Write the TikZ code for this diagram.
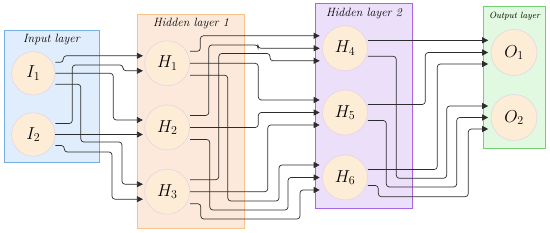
\documentclass[tikz,border=0pt]{standalone}
\usepackage{fontspec}
\usetikzlibrary{arrows.meta}
\definecolor{inputfill}{RGB}{224,237,252}
\definecolor{inputdraw}{RGB}{120,175,225}
\definecolor{hafill}{RGB}{252,233,219}
\definecolor{hadraw}{RGB}{247,195,140}
\definecolor{hbfill}{RGB}{236,223,250}
\definecolor{hbdraw}{RGB}{168,100,228}
\definecolor{outfill}{RGB}{224,249,224}
\definecolor{outdraw}{RGB}{115,208,115}
\definecolor{nodefill}{RGB}{253,237,214}
\definecolor{nodedraw}{RGB}{230,212,228}
\definecolor{edgecol}{RGB}{45,45,45}
\tikzset{
  layerbox/.style={line width=0.9pt},
  neuron/.style={circle, fill=nodefill, draw=nodedraw, line width=0.6pt, inner sep=0pt, minimum size=45pt, font=\fontsize{17}{20}\selectfont},
  ineuron/.style={neuron, minimum size=43.4pt},
  title/.style={font=\fontsize{12}{14}\selectfont\itshape, text=black},
  edge/.style={draw=edgecol, line width=0.7pt, rounded corners=3pt, -{Triangle[length=6pt,width=6pt]}},
}
\begin{document}
\begin{tikzpicture}[x=1pt, y=-1pt]
\useasboundingbox (0,0) rectangle (550,233);
% layer boxes
\filldraw[layerbox, fill=inputfill, draw=inputdraw] (4,30) rectangle (99,162.7);
\filldraw[layerbox, fill=hafill, draw=hadraw] (137.3,14) rectangle (244.3,228.3);
\filldraw[layerbox, fill=hbfill, draw=hbdraw] (315,3.3) rectangle (412.3,208.3);
\filldraw[layerbox, fill=outfill, draw=outdraw] (483.3,6.7) rectangle (545.7,148.3);
\node[title] (tin) at (51.5,40) {Input layer};
\node[title] (th1) at (191,24) {Hidden layer 1};
\node[title] (th2) at (364,14) {Hidden layer 2};
\node[title, font=\fontsize{9}{11}\selectfont\itshape] (tout) at (514.5,16) {Output layer};
% neurons
\node[ineuron] (I1) at (33.3,73.3) {$I_1$};
\node[ineuron] (I2) at (33.3,134.5) {$I_2$};
\node[neuron] (H1) at (167.2,63.3) {$H_1$};
\node[neuron] (H2) at (167.2,127.5) {$H_2$};
\node[neuron] (H3) at (167.2,191.7) {$H_3$};
\node[neuron] (H4) at (345,48.3) {$H_4$};
\node[neuron] (H5) at (345,112.5) {$H_5$};
\node[neuron] (H6) at (345,177.5) {$H_6$};
\node[neuron, minimum size=46pt] (O1) at (514,52.5) {$O_1$};
\node[neuron, minimum size=46pt] (O2) at (514,117.5) {$O_2$};
% ports
\foreach \n in {I1,I2}{
  \coordinate (\n o1) at ([yshift=11pt]\n.east);
  \coordinate (\n o2) at (\n.east);
  \coordinate (\n o3) at ([yshift=-11pt]\n.east);
}
\foreach \n in {H1,H2,H3}{
  \coordinate (\n i1) at ([yshift=7.5pt,xshift=-1.5pt]\n.west);
  \coordinate (\n i2) at ([yshift=-7.5pt,xshift=-1.5pt]\n.west);
  \coordinate (\n o1) at ([yshift=12pt]\n.east);
  \coordinate (\n o2) at (\n.east);
  \coordinate (\n o3) at ([yshift=-12pt]\n.east);
}
\foreach \n in {H4,H5,H6}{
  \coordinate (\n i1) at ([yshift=12.5pt,xshift=-2.5pt]\n.west);
  \coordinate (\n i2) at ([xshift=-2.5pt]\n.west);
  \coordinate (\n i3) at ([yshift=-12.5pt,xshift=-2.5pt]\n.west);
  \coordinate (\n o1) at ([yshift=8pt]\n.east);
  \coordinate (\n o2) at ([yshift=-8pt]\n.east);
}
\foreach \n in {O1,O2}{
  \coordinate (\n i1) at ([yshift=11.5pt,xshift=-2.5pt]\n.west);
  \coordinate (\n i2) at ([xshift=-2.5pt]\n.west);
  \coordinate (\n i3) at ([yshift=-11.5pt,xshift=-2.5pt]\n.west);
}
% input -> hidden 1
\draw[edge] (I1o1) -- ++(8,0) |- (H1i1);
\draw[edge] (I1o2) -- ++(58,0) |- (H2i1);
\draw[edge] (I1o3) -- ++(25.5,0) |- (122,142) |- (H3i1);
\draw[edge] (I2o1) -- ++(17,0) |- (123,65) |- (H1i2);
\draw[edge] (I2o2) -- (I2o2 -| H2i2);
\draw[edge] (I2o3) -- ++(9,0) |- (112,152) |- (H3i2);
% hidden 1 -> hidden 2
\draw[edge] (H1o1) -- ++(10.3,0) |- (H4i1);
\draw[edge] (H1o2) -- ++(68.3,0) |- (H5i1);
\draw[edge] (H1o3) -- ++(37.8,0) |- (279,201) |- (H6i1);
\draw[edge] (H2o1) -- ++(18.8,0) |- (258,45) |- (H4i2);
\draw[edge] (H2o2) -- ++(68.3,0) |- (H5i2);
\draw[edge] (H2o3) -- ++(19.8,0) |- (288,210) |- (H6i2);
\draw[edge] (H3o1) -- ++(28.8,0) |- (270,53.5) |- (H4i3);
\draw[edge] (H3o2) -- ++(77.8,0) |- (H5i3);
\draw[edge] (H3o3) -- ++(10.8,0) |- (300,219) |- (H6i3);
% hidden 2 -> output
\draw[edge] (H4o1) -- (H4o1 -| O1i1);
\draw[edge] (H4o2) -- ++(28.5,0) |- (446.7,178.3) |- (O2i1);
\draw[edge] (H5o1) -- ++(57.5,0) |- (O1i2);
\draw[edge] (H5o2) -- ++(18.5,0) |- (456.7,187) |- (O2i2);
\draw[edge] (H6o1) -- ++(69.5,0) |- (O1i3);
\draw[edge] (H6o2) -- ++(10.5,0) |- (468.3,196.7) |- (O2i3);
\end{tikzpicture}
\end{document}
